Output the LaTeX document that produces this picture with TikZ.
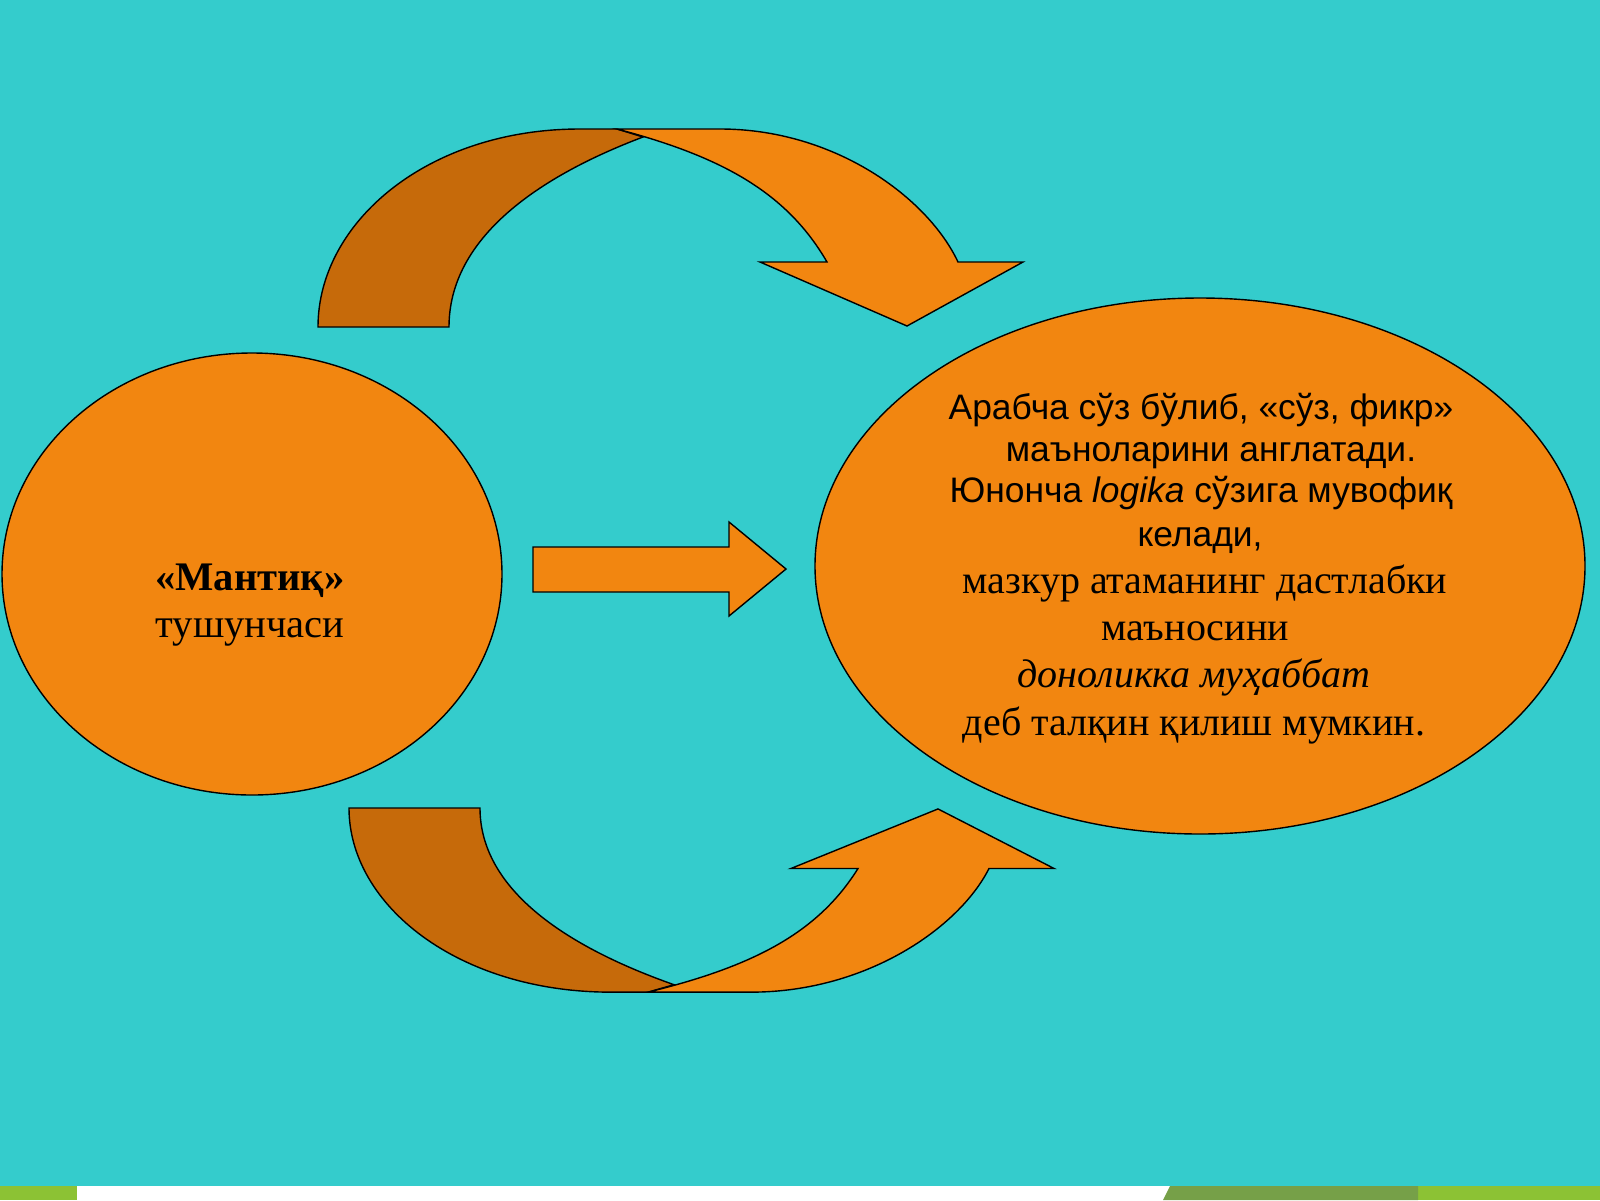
\documentclass[tikz,border=0pt]{standalone}
\usepackage{fontspec}
\setmainfont{Liberation Serif}
\setsansfont{Liberation Sans}
\usetikzlibrary{shapes.geometric}
\definecolor{bgteal}{RGB}{52,204,204}
\definecolor{orangefront}{RGB}{242,134,16}
\definecolor{orangeback}{RGB}{198,106,10}
\definecolor{stripgreen}{RGB}{140,194,52}
\definecolor{stripolive}{RGB}{118,160,72}
\newcommand{\curvedarrow}{%
  \path[back] (318,327) .. controls (318,222) and (428,129) .. (580,129) -- (617,129)
     -- (643,137) .. controls (540,176) and (449,237) .. (449,327) -- cycle;
  \path[front] (617,129) -- (720,129) .. controls (835,129) and (928,198) .. (958,262)
     -- (1023,262) -- (907,326) -- (760,262) -- (827,262)
     .. controls (787,193) and (723,157) .. (617,129) -- cycle;}
\begin{document}
\begin{tikzpicture}[x=0.5pt,y=-0.5pt,
  outl/.style={draw=black,line width=0.7pt,line join=miter},
  front/.style={outl,fill=orangefront},
  back/.style={outl,fill=orangeback},
  blob/.style={ellipse,outl,fill=orangefront,inner sep=0pt},
  sansline/.style={anchor=base,inner sep=0pt,font=\sffamily\fontsize{17.7}{21}\selectfont},
  serifline/.style={anchor=base,inner sep=0pt,font=\rmfamily\fontsize{20}{24}\selectfont},
  leftline/.style={anchor=base,inner sep=0pt,font=\rmfamily\fontsize{20.3}{24}\selectfont}]
\useasboundingbox (0,0) rectangle (1600,1200);
\fill[bgteal] (0,0) rectangle (1600,1200);
% bottom strip
\fill[stripgreen] (0,1186) rectangle (1600,1200);
\fill[white] (77,1186) rectangle (1170,1200);
\fill[stripolive] (1170,1186) -- (1418,1186) -- (1418,1200) -- (1163,1200) -- cycle;

% curved arrows
\begin{scope}
  \curvedarrow
\end{scope}
\begin{scope}[shift={(31,808)},yscale=-0.93,shift={(0,-327)}]
  \curvedarrow
\end{scope}

% ellipses
\node[blob,minimum width=250pt,minimum height=221pt] (L) at (252,574) {};
\node[blob,minimum width=385pt,minimum height=268pt] (R) at (1200,566) {};

% straight block arrow
\path[front] (533,547) -- (729,547) -- (729,522) -- (786,569) -- (729,616)
   -- (729,592) -- (533,592) -- cycle;

% left text
\node[leftline] (l1) at (250,590) {\textbf{«Мантиқ»}};
\node[leftline] (l2) at (250,637) {тушунчаси};

% right text
\node[sansline] (r1) at (1201,419) {Арабча сўз бўлиб, «сўз, фикр»};
\node[sansline] (r2) at (1211,461) {маъноларини англатади.};
\node[sansline] (r3) at (1201,502) {Юнонча \textit{logika} сўзига мувофиқ};
\node[sansline] (r4) at (1200,546) {келади,};
\node[serifline] (r5) at (1205,593) {мазкур атаманинг дастлабки};
\node[serifline] (r6) at (1195,640) {маъносини};
\node[serifline] (r7) at (1194,687) {\textit{доноликка муҳаббат}};
\node[serifline] (r8) at (1194,735) {деб талқин қилиш мумкин.};
\end{tikzpicture}
\end{document}
